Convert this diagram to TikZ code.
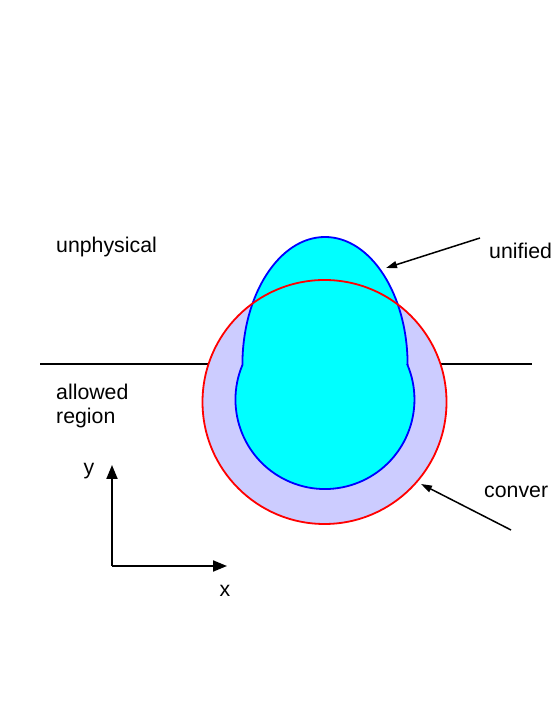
\documentclass[tikz,border=0pt]{standalone}
\usepackage{fontspec}
\setmainfont{Liberation Sans}
\usetikzlibrary{positioning,arrows.meta}
\definecolor{lavender}{RGB}{204,204,255}
\definecolor{aqua}{RGB}{0,255,255}
\definecolor{pureblue}{RGB}{0,0,255}
\definecolor{purered}{RGB}{255,0,0}
\tikzset{
  lbl/.style={font=\fontsize{21.3}{24.5}\selectfont,inner sep=0pt},
  ptr/.style={-{Triangle[length=11pt,width=7pt]},line width=1.5pt},
  axis/.style={-{Triangle[length=14pt,width=11pt]},line width=2pt}
}
\begin{document}
\begin{tikzpicture}[x=1pt,y=1pt]
\clip (0,0) rectangle (550,711);
\fill[white] (0,0) rectangle (550,711);
% boundary between the two regions
\draw[line width=1.5pt] (40,347) -- (532,347);
\fill[lavender] (324.5,309) circle (122);
% unified region: half ellipse on top of a circle
\draw[pureblue,line width=1.8pt,fill=aqua] (407.6,346) arc[start angle=0,end angle=180,x radius=82.6,y radius=128]
  arc[start angle=157.3,end angle=382.7,radius=89.5] -- cycle;
\draw[purered,line width=1.8pt] (324.5,309) circle (122);
\node[lbl,anchor=west] (unph) at (56,464) {unphysical};
\node[lbl,anchor=west,align=left] (allow) at (56,305) {allowed\\region};
\node[lbl,anchor=west] (unif) at (489,460) {unified};
\node[lbl,anchor=west] (conv) at (484,219) {conver};
\coordinate (unifA) at (480,473);
\coordinate (unifB) at (386,443);
\coordinate (convA) at (511,181);
\coordinate (convB) at (421,227);
\draw[ptr] (unifA) -- (unifB);
\draw[ptr] (convA) -- (convB);
% axes
\coordinate (o) at (112,145);
\coordinate (ytip) at (112,246);
\coordinate (xtip) at (227,145);
\draw[axis] (o) -- (ytip);
\draw[axis] (o) -- (xtip);
\node[lbl] (ylab) at (89,240) {y};
\node[lbl] (xlab) at (225,120) {x};
\end{tikzpicture}
\end{document}
